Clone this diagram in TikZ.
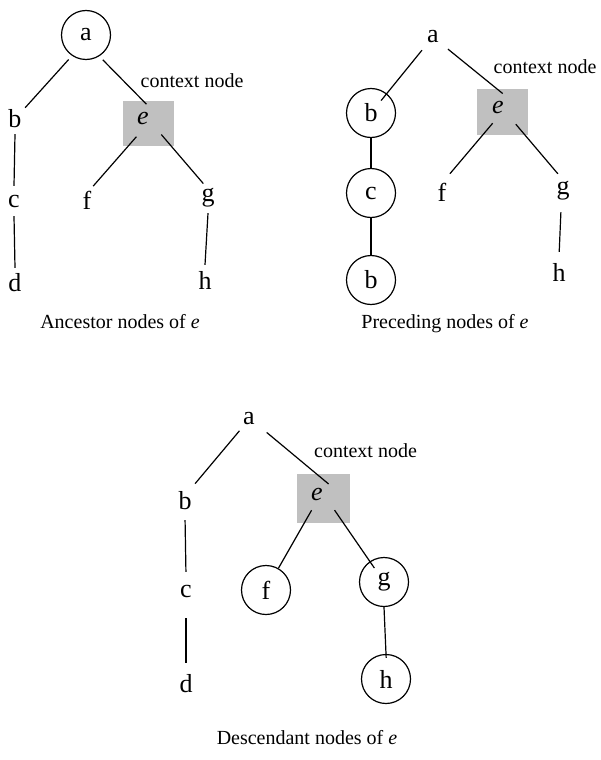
\documentclass[tikz,border=0pt]{standalone}
\usepackage{fontspec}
\setmainfont{Liberation Serif}
\definecolor{boxgray}{RGB}{192,192,192}
\begin{document}
\begin{tikzpicture}[x=1pt,y=-1pt,
  lbl/.style={circle,inner sep=0pt,minimum size=30pt,font=\fontsize{26}{30}\selectfont},
  ring/.style={lbl,draw,line width=1.2pt,minimum size=49pt},
  ebox/.style={rectangle,fill=boxgray,inner sep=0pt},
  elbl/.style={lbl,font=\fontsize{26}{30}\selectfont\itshape},
  note/.style={anchor=base,inner sep=0pt,font=\fontsize{20}{24}\selectfont},
  edge/.style={line width=1.2pt}]
\useasboundingbox (0,0) rectangle (600,760);

% ---------- Panel 1: ancestors ----------
\node[ring] (a1) at (86,35) {a};
\node[lbl] (b1) at (15,119) {b};
\node[lbl] (c1) at (14,201) {c};
\node[lbl] (d1) at (15,283) {d};
\node[ebox,minimum width=51pt,minimum height=45pt] (E1) at (148.5,123.5) {};
\node[elbl] (e1) at (143,119) {e};
\node[lbl] (f1) at (87,200) {f};
\node[lbl] (g1) at (208,198) {g};
\node[lbl] (h1) at (205,280) {h};
\node[note] (t1) at (192,87) {context node};
\node[note] (cap1) at (120,328) {Ancestor nodes of \textit{e}};

\draw[edge, shorten <=5pt] (a1.-124) -- (b1.48);
\draw[edge, shorten <=5pt] (a1.-58) -- (e1.77);
\draw[edge] (b1.south) -- (c1.north);
\draw[edge] (c1.south) -- (d1.north);
\draw[edge, shorten <=4pt] (e1.-105) -- (f1.66);
\draw[edge, shorten <=9pt] (e1.-35) -- (g1.108);
\draw[edge] (g1.south) -- (h1.north);

% ---------- Panel 2: preceding ----------
\node[lbl] (a2) at (433,37) {a};
\node[ring] (b2) at (371,113) {b};
\node[ring] (c2) at (371,193) {c};
\node[ring] (bb2) at (371,280) {b};
\node[ebox,minimum width=51pt,minimum height=46pt] (E2) at (502.5,112) {};
\node[elbl] (e2) at (498,108) {e};
\node[lbl] (f2) at (442,192) {f};
\node[lbl] (g2) at (563,191) {g};
\node[lbl] (h2) at (559,272) {h};
\node[note] (t2) at (545,74) {context node};
\node[note] (cap2) at (445,328) {Preceding nodes of \textit{e}};

\draw[edge, shorten <=2pt, shorten >=16pt] (a2.-130) -- (b2.center);
\draw[edge] (b2) -- (c2);
\draw[edge] (c2) -- (bb2);
\draw[edge, shorten <=4pt] (a2.-39) -- (e2.72);
\draw[edge, shorten <=1pt, shorten >=5pt] (e2.-108) -- (f2.72);
\draw[edge, shorten <=9pt, shorten >=3pt] (e2.-38) -- (g2.102);
\draw[edge, shorten <=6pt, shorten >=5pt] (g2.-97) -- (h2.north);

% ---------- Panel 3: descendants ----------
\node[lbl] (a3) at (249,419) {a};
\node[lbl] (b3) at (185,501) {b};
\node[lbl] (c3) at (186,591) {c};
\node[lbl] (d3) at (186,684) {d};
\node[ebox,minimum width=53pt,minimum height=49pt] (E3) at (323.5,498.5) {};
\node[elbl] (e3) at (317,494) {e};
\node[ring] (f3) at (266,590) {f};
\node[ring] (g3) at (384,582) {g};
\node[ring] (h3) at (386,679) {h};
\node[note] (t3) at (365.5,457) {context node};
\node[note] (cap3) at (307,744) {Descendant nodes of \textit{e}};

\draw[edge, shorten >=5pt] (a3.-129) -- (b3.63);
\draw[edge, shorten <=7pt, shorten >=-4pt] (a3.-36) -- (e3.56);
\draw[edge, shorten <=4pt, shorten >=4pt] (b3.south) -- (c3.north);
\draw[edge, shorten <=12pt, shorten >=6pt] (c3.south) -- (d3.north);
\draw[edge, shorten <=2pt] (e3.-107) -- (f3);
\draw[edge, shorten <=9pt, shorten >=17pt] (e3.-35) -- (g3.center);
\draw[edge, shorten >=-4pt] (g3.south) -- (h3.north);
\end{tikzpicture}
\end{document}
